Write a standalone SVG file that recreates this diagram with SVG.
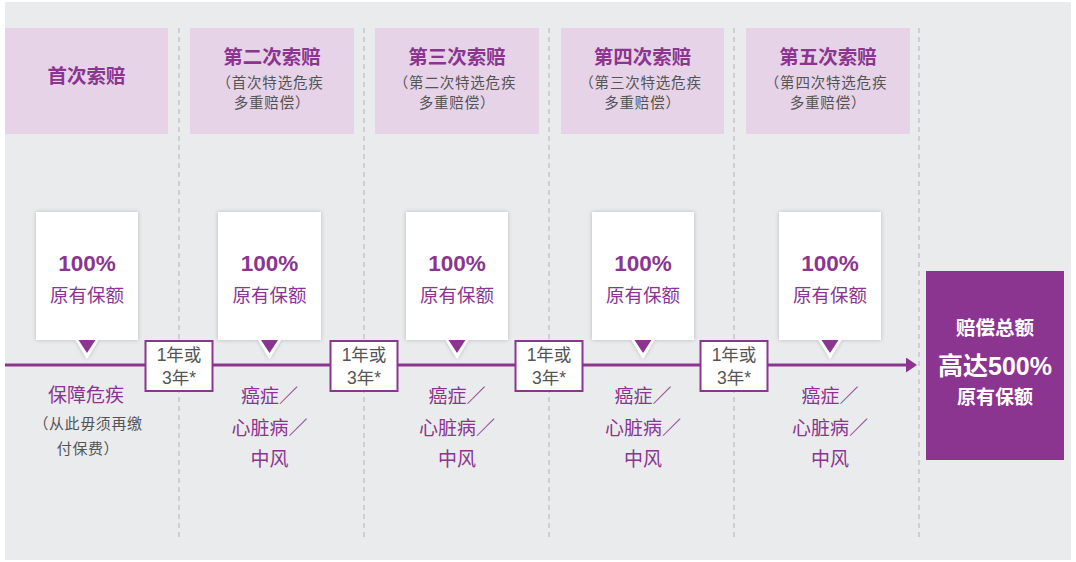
<svg xmlns="http://www.w3.org/2000/svg" width="1076" height="562" viewBox="0 0 1076 562">
<defs>
<style>
text{font-family:"Liberation Sans","Noto Sans CJK SC",sans-serif;text-anchor:middle;dominant-baseline:central}
.hdr{fill:#E6D3E8}
.title{font-size:19.5px;font-weight:bold;fill:#8B3590}
.sub{font-size:14.5px;fill:#555;letter-spacing:0.8px}
.pct{font-size:22.5px;font-weight:bold;fill:#8B3590}
.amt{font-size:18.5px;fill:#8B3590}
.ev{font-size:19px;fill:#8B3590}
.note{font-size:15px;fill:#555;letter-spacing:0.6px}
.iv rect{fill:#fff;stroke:#8B3590;stroke-width:2}
.iv text{font-size:17.5px;fill:#555}
.dash{stroke:#C9C9CB;stroke-width:1.6;stroke-dasharray:5 4}
.callout{fill:#fff;filter:url(#sh)}
.ptr{fill:#8B3590}
.tot{font-weight:bold;fill:#fff}
</style>
<filter id="sh" x="-20%" y="-20%" width="140%" height="140%">
<feDropShadow dx="0" dy="0" stdDeviation="2.2" flood-color="#000" flood-opacity="0.22"/>
</filter>
<marker id="arr" markerWidth="12" markerHeight="16" refX="1" refY="7.5" orient="auto" markerUnits="userSpaceOnUse">
<polygon points="0,0 11,7.5 0,15" fill="#8B3590"/>
</marker>
</defs>
<rect x="0" y="0" width="1076" height="562" fill="#fff"/>
<rect x="5" y="2" width="1066" height="558" fill="#EAEBED"/>

<g id="dividers">
<line class="dash" x1="179" y1="28" x2="179" y2="538"/>
<line class="dash" x1="364" y1="28" x2="364" y2="538"/>
<line class="dash" x1="549" y1="28" x2="549" y2="538"/>
<line class="dash" x1="734" y1="28" x2="734" y2="538"/>
<line class="dash" x1="919" y1="28" x2="919" y2="538"/>
</g>

<g id="headers">
<g id="h1"><rect class="hdr" x="5" y="28" width="163" height="106"/><text class="title" x="86.5" y="76">首次索赔</text></g>
<g id="h2"><rect class="hdr" x="190" y="28" width="164" height="106"/><text class="title" x="272" y="57">第二次索赔</text><text class="sub" x="270" y="83">（首次特选危疾</text><text class="sub" x="272" y="103">多重赔偿）</text></g>
<g id="h3"><rect class="hdr" x="375" y="28" width="164" height="106"/><text class="title" x="457" y="57">第三次索赔</text><text class="sub" x="455" y="83">（第二次特选危疾</text><text class="sub" x="457" y="103">多重赔偿）</text></g>
<g id="h4"><rect class="hdr" x="561" y="28" width="163" height="106"/><text class="title" x="642.5" y="57">第四次索赔</text><text class="sub" x="640.5" y="83">（第三次特选危疾</text><text class="sub" x="642.5" y="103">多重赔偿）</text></g>
<g id="h5"><rect class="hdr" x="746" y="28" width="164" height="106"/><text class="title" x="828" y="57">第五次索赔</text><text class="sub" x="826" y="83">（第四次特选危疾</text><text class="sub" x="828" y="103">多重赔偿）</text></g>
</g>

<g id="connectors">
<line x1="5" y1="365" x2="907" y2="365" stroke="#8B3590" stroke-width="3" marker-end="url(#arr)"/>
</g>

<g id="callouts">
<g id="c1"><path class="callout" d="M36,212H138V340H98.5L87,359L75.5,340H36Z"/><polygon class="ptr" points="78.5,340 95.5,340 87,353"/><text class="pct" x="87" y="263">100%</text><text class="amt" x="87" y="295">原有保额</text></g>
<g id="c2"><path class="callout" d="M218,212H321V340H281L269.5,359L258,340H218Z"/><polygon class="ptr" points="261,340 278,340 269.5,353"/><text class="pct" x="269.5" y="263">100%</text><text class="amt" x="269.5" y="295">原有保额</text></g>
<g id="c3"><path class="callout" d="M406,212H508V340H468.5L457,359L445.5,340H406Z"/><polygon class="ptr" points="448.5,340 465.5,340 457,353"/><text class="pct" x="457" y="263">100%</text><text class="amt" x="457" y="295">原有保额</text></g>
<g id="c4"><path class="callout" d="M592,212H694V340H654.5L643,359L631.5,340H592Z"/><polygon class="ptr" points="634.5,340 651.5,340 643,353"/><text class="pct" x="643" y="263">100%</text><text class="amt" x="643" y="295">原有保额</text></g>
<g id="c5"><path class="callout" d="M779,212H881V340H841.5L830,359L818.5,340H779Z"/><polygon class="ptr" points="821.5,340 838.5,340 830,353"/><text class="pct" x="830" y="263">100%</text><text class="amt" x="830" y="295">原有保额</text></g>
</g>

<g id="intervals">
<g id="i1" class="iv"><rect x="145.5" y="341" width="67" height="50"/><text x="179" y="355">1年或</text><text x="179" y="378">3年*</text></g>
<g id="i2" class="iv"><rect x="330.5" y="341" width="67" height="50"/><text x="364" y="355">1年或</text><text x="364" y="378">3年*</text></g>
<g id="i3" class="iv"><rect x="515.5" y="341" width="67" height="50"/><text x="549" y="355">1年或</text><text x="549" y="378">3年*</text></g>
<g id="i4" class="iv"><rect x="700.5" y="341" width="67" height="50"/><text x="734" y="355">1年或</text><text x="734" y="378">3年*</text></g>
</g>

<g id="events">
<g id="e1"><text class="ev" x="86" y="395">保障危疾</text><text class="note" x="88" y="423">（从此毋须再缴</text><text class="note" x="88" y="448">付保费）</text></g>
<g id="e2"><text class="ev" x="269.5" y="396">癌症／</text><text class="ev" x="269.5" y="428">心脏病／</text><text class="ev" x="269.5" y="459">中风</text></g>
<g id="e3"><text class="ev" x="457" y="396">癌症／</text><text class="ev" x="457" y="428">心脏病／</text><text class="ev" x="457" y="459">中风</text></g>
<g id="e4"><text class="ev" x="643" y="396">癌症／</text><text class="ev" x="643" y="428">心脏病／</text><text class="ev" x="643" y="459">中风</text></g>
<g id="e5"><text class="ev" x="830" y="396">癌症／</text><text class="ev" x="830" y="428">心脏病／</text><text class="ev" x="830" y="459">中风</text></g>
</g>

<g id="total">
<rect x="926" y="271" width="138" height="189" fill="#8B3590"/>
<text class="tot" x="995" y="328" font-size="19.5">赔偿总额</text>
<text class="tot" x="995" y="366" font-size="25">高达500%</text>
<text class="tot" x="995" y="397" font-size="19">原有保额</text>
</g>
</svg>
